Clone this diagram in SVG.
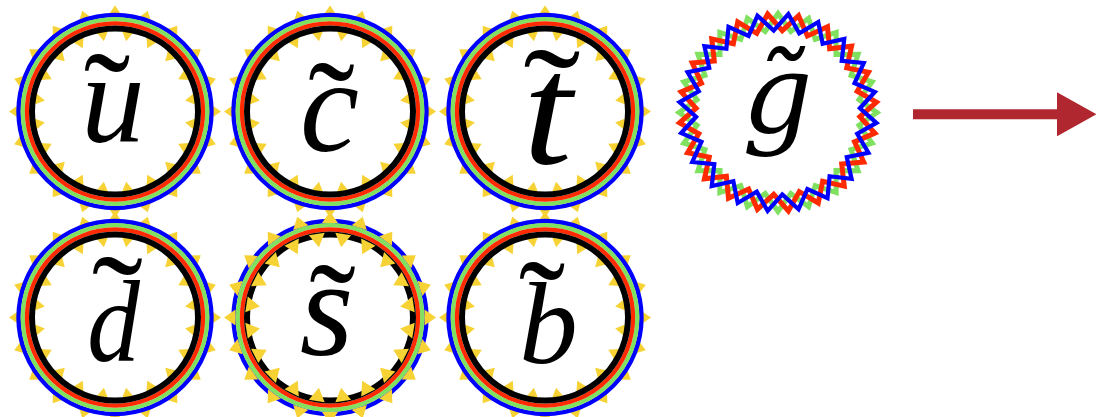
<svg xmlns="http://www.w3.org/2000/svg" xmlns:xlink="http://www.w3.org/1999/xlink" width="1096" height="417" viewBox="0 0 1096 417">
<defs>
<g id="pair" fill="#f6d234">
<path d="M106 0 L94.5 -8 L94.5 8 Z"/>
<path d="M71 0 L84.5 -8 L84.5 8 Z" transform="rotate(9)"/>
</g>
<g id="spikes">
<use xlink:href="#pair"/>
<use xlink:href="#pair" transform="rotate(18)"/>
<use xlink:href="#pair" transform="rotate(36)"/>
<use xlink:href="#pair" transform="rotate(54)"/>
<use xlink:href="#pair" transform="rotate(72)"/>
<use xlink:href="#pair" transform="rotate(90)"/>
<use xlink:href="#pair" transform="rotate(108)"/>
<use xlink:href="#pair" transform="rotate(126)"/>
<use xlink:href="#pair" transform="rotate(144)"/>
<use xlink:href="#pair" transform="rotate(162)"/>
<use xlink:href="#pair" transform="rotate(180)"/>
<use xlink:href="#pair" transform="rotate(198)"/>
<use xlink:href="#pair" transform="rotate(216)"/>
<use xlink:href="#pair" transform="rotate(234)"/>
<use xlink:href="#pair" transform="rotate(252)"/>
<use xlink:href="#pair" transform="rotate(270)"/>
<use xlink:href="#pair" transform="rotate(288)"/>
<use xlink:href="#pair" transform="rotate(306)"/>
<use xlink:href="#pair" transform="rotate(324)"/>
<use xlink:href="#pair" transform="rotate(342)"/>
</g>
<g id="squark">
<use xlink:href="#spikes"/>
<circle r="96.5" fill="none" stroke="#0000ff" stroke-width="4.4"/>
<circle r="92.3" fill="none" stroke="#80e060" stroke-width="4.2"/>
<circle r="88.1" fill="none" stroke="#ff2a00" stroke-width="4.2"/>
<circle r="83" fill="none" stroke="#000" stroke-width="6"/>
</g>
<polygon id="zig" fill="none" stroke-linejoin="miter" stroke-miterlimit="10" points="99,0 80.99,12.83 94.15,30.59 73.06,37.23 80.09,58.19 57.98,57.98 58.19,80.09 37.23,73.06 30.59,94.15 12.83,80.99 0,99 -12.83,80.99 -30.59,94.15 -37.23,73.06 -58.19,80.09 -57.98,57.98 -80.09,58.19 -73.06,37.23 -94.15,30.59 -80.99,12.83 -99,0 -80.99,-12.83 -94.15,-30.59 -73.06,-37.23 -80.09,-58.19 -57.98,-57.98 -58.19,-80.09 -37.23,-73.06 -30.59,-94.15 -12.83,-80.99 0,-99 12.83,-80.99 30.59,-94.15 37.23,-73.06 58.19,-80.09 57.98,-57.98 80.09,-58.19 73.06,-37.23 94.15,-30.59 80.99,-12.83"/>
<marker id="ah" markerUnits="userSpaceOnUse" markerWidth="40" markerHeight="44" refX="0" refY="22" orient="auto">
<path d="M0 0 L39.5 22 L0 44 Z" fill="#b0272f"/>
</marker>
</defs>
<rect width="1096" height="417" fill="#fff"/>
<g id="node-u">
<use xlink:href="#squark" transform="translate(115,111.5)"/>
<text x="113" y="142" font-family="Liberation Serif" font-style="italic" text-anchor="middle" font-size="127">u</text>
<text x="107" y="148" font-family="Liberation Serif" text-anchor="middle" font-size="140">˜</text>
</g>
<g id="node-c" transform="translate(330,111.5)">
<use xlink:href="#squark"/>
<text x="-0.5" y="39.5" font-family="Liberation Serif" font-style="italic" text-anchor="middle" font-size="133">c</text>
<text x="1.5" y="45" font-family="Liberation Serif" text-anchor="middle" font-size="140">˜</text>
</g>
<g id="node-t" transform="translate(545,111.5)">
<text font-family="Liberation Serif" font-style="italic" text-anchor="middle" font-size="158" transform="translate(2.5,51.5) scale(1.12,1)">t</text>
<text font-family="Liberation Serif" text-anchor="middle" font-size="140" transform="translate(7,32) scale(1.23,1)">˜</text>
<use xlink:href="#squark"/>
</g>
<g id="node-d">
<use xlink:href="#squark" transform="translate(115,317.5)"/>
<text font-family="Liberation Serif" font-style="italic" text-anchor="middle" font-size="117" transform="translate(113.5,361) scale(0.9,1)">d</text>
<text font-family="Liberation Serif" text-anchor="middle" font-size="140" transform="translate(117.5,351) scale(1.1,1)">˜</text>
</g>
<g id="node-s">
<circle cx="330" cy="317.5" r="96.5" fill="none" stroke="#0000ff" stroke-width="4.4"/>
<circle cx="330" cy="317.5" r="92.3" fill="none" stroke="#80e060" stroke-width="4.2"/>
<circle cx="330" cy="317.5" r="88.1" fill="none" stroke="#ff2a00" stroke-width="4.2"/>
<circle cx="330" cy="317.5" r="83" fill="none" stroke="#000" stroke-width="6"/>
<use xlink:href="#spikes" transform="translate(330,317.5)"/>
<text x="326.5" y="355" font-family="Liberation Serif" font-style="italic" text-anchor="middle" font-size="138">s</text>
<text x="332.5" y="358.5" font-family="Liberation Serif" text-anchor="middle" font-size="140">˜</text>
</g>
<g id="node-b" transform="translate(545,317.5)">
<use xlink:href="#squark"/>
<text x="3.5" y="45.5" font-family="Liberation Serif, serif" font-style="italic" text-anchor="middle" font-size="117">b<tspan x="-3" y="38.5" font-style="normal" font-size="140">˜</tspan></text>
</g>
<g id="node-g" transform="translate(778,112.5)">
<use xlink:href="#zig" stroke="#80e060" stroke-width="5"/>
<use xlink:href="#zig" stroke="#ff2a00" stroke-width="5" transform="rotate(12)"/>
<use xlink:href="#zig" stroke="#0000ff" stroke-width="4.2" transform="rotate(6)"/>
<text x="-0.5" y="19.5" font-family="DejaVu Serif" font-style="italic" text-anchor="middle" font-size="110">g̃</text>
</g>
<g id="connectors">
<line x1="913" y1="114.3" x2="1057" y2="114.3" stroke="#b0272f" stroke-width="10" marker-end="url(#ah)"/>
</g>
</svg>
